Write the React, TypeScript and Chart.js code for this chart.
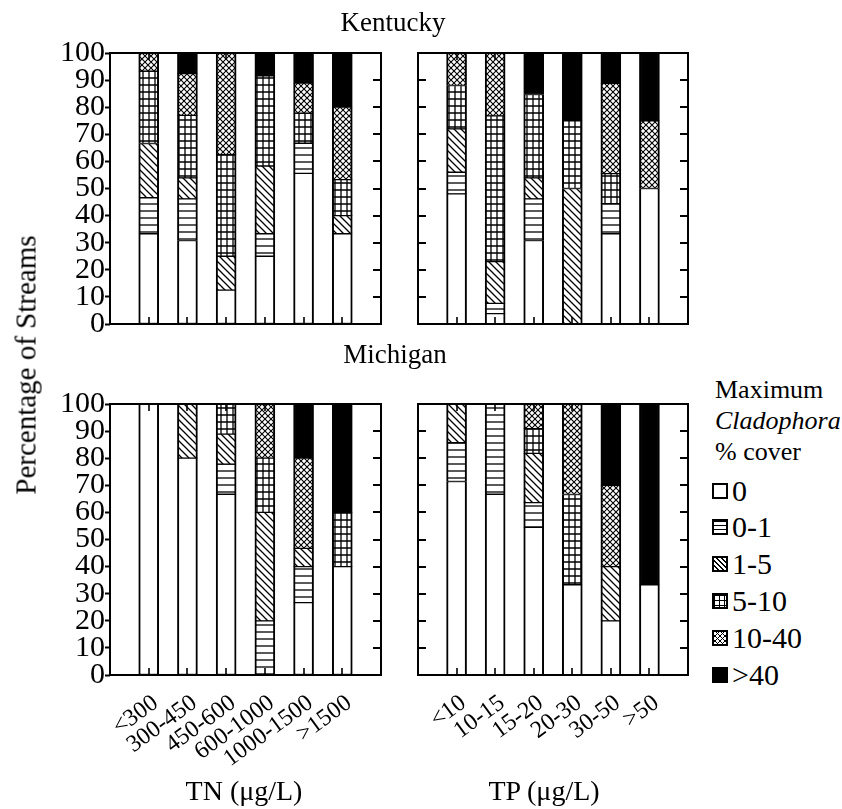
import React, { useEffect, useRef } from 'react';
import { Chart, registerables } from 'chart.js';

Chart.register(...registerables);
Chart.defaults.color = '#000';

const coverClasses = ['0', '0-1', '1-5', '5-10', '10-40', '>40'];
const tnLabels = ['<300', '300-450', '450-600', '600-1000', '1000-1500', '>1500'];
const tpLabels = ['<10', '10-15', '15-20', '20-30', '30-50', '>50'];
const yTicks = [0, 10, 20, 30, 40, 50, 60, 70, 80, 90, 100];

// Kentucky, TN classes (percentage of streams per cover class)
const kyTN0 = [33.3, 30.8, 12.5, 25.0, 55.6, 33.3];
const kyTN01 = [13.3, 15.4, 0, 8.3, 11.1, 0];
const kyTN15 = [20.0, 7.7, 12.5, 25.0, 0, 6.7];
const kyTN510 = [26.7, 23.1, 37.5, 33.3, 11.1, 13.3];
const kyTN1040 = [6.7, 15.4, 37.5, 0, 11.1, 26.7];
const kyTN40 = [0, 7.7, 0, 8.3, 11.1, 20.0];

// Kentucky, TP classes
const kyTP0 = [48.0, 3.8, 30.8, 0, 33.3, 50.0];
const kyTP01 = [8.0, 3.8, 15.4, 0, 11.1, 0];
const kyTP15 = [16.0, 15.4, 7.7, 50.0, 0, 0];
const kyTP510 = [16.0, 53.8, 30.8, 25.0, 11.1, 0];
const kyTP1040 = [12.0, 23.1, 0, 0, 33.3, 25.0];
const kyTP40 = [0, 0, 15.4, 25.0, 11.1, 25.0];

// Michigan, TN classes
const miTN0 = [100, 80.0, 66.7, 0, 26.7, 40.0];
const miTN01 = [0, 0, 11.1, 20.0, 13.3, 0];
const miTN15 = [0, 20.0, 11.1, 40.0, 6.7, 0];
const miTN510 = [0, 0, 11.1, 20.0, 0, 20.0];
const miTN1040 = [0, 0, 0, 20.0, 33.3, 0];
const miTN40 = [0, 0, 0, 0, 20.0, 40.0];

// Michigan, TP classes
const miTP0 = [71.4, 66.7, 54.5, 33.3, 20.0, 33.3];
const miTP01 = [14.3, 33.3, 9.1, 0, 0, 0];
const miTP15 = [14.3, 0, 18.2, 0, 20.0, 0];
const miTP510 = [0, 0, 9.1, 33.3, 0, 0];
const miTP1040 = [0, 0, 9.1, 33.3, 30.0, 0];
const miTP40 = [0, 0, 0, 0, 30.0, 66.7];

const SERIF = '"Liberation Serif", "Times New Roman", serif';

function makePattern(kind: string): CanvasPattern | string {
  if (kind === '0') return '#ffffff';
  if (kind === '>40') return '#000000';
  const c = document.createElement('canvas');
  let w = 8;
  let h = 8;
  if (kind === '0-1') { w = 8; h = 7; }
  if (kind === '1-5') { w = 7; h = 7; }
  if (kind === '5-10') { w = 6; h = 7; }
  if (kind === '10-40') { w = 6; h = 6; }
  c.width = w;
  c.height = h;
  const g = c.getContext('2d')!;
  g.fillStyle = '#fff';
  g.fillRect(0, 0, w, h);
  g.strokeStyle = '#000';
  g.lineWidth = 1.3;
  g.beginPath();
  if (kind === '0-1') {
    g.moveTo(0, 1); g.lineTo(w, 1);
  } else if (kind === '1-5') {
    g.moveTo(-1, -1); g.lineTo(w + 1, h + 1);
    g.moveTo(w - 1, -1); g.lineTo(w + 1, 1);
    g.moveTo(-1, h - 1); g.lineTo(1, h + 1);
  } else if (kind === '5-10') {
    g.moveTo(0, 1); g.lineTo(w, 1);
    g.moveTo(1, 0); g.lineTo(1, h);
  } else if (kind === '10-40') {
    g.lineWidth = 1.1;
    g.moveTo(-1, -1); g.lineTo(w + 1, h + 1);
    g.moveTo(-1, h + 1); g.lineTo(w + 1, -1);
  }
  g.stroke();
  const ctx = document.createElement('canvas').getContext('2d')!;
  return ctx.createPattern(c, 'repeat') as CanvasPattern;
}

const frameTicks = {
  id: 'frameTicks',
  afterDraw(chart: any, _args: any, opts: any) {
    const { ctx, chartArea: a, scales } = chart;
    const ys = scales.y;
    const xs = scales.x;
    ctx.save();
    ctx.strokeStyle = '#000';
    ctx.lineWidth = 2;
    ctx.strokeRect(a.left, a.top, a.right - a.left, a.bottom - a.top);
    ctx.beginPath();
    for (const v of yTicks) {
      if (v === 0 || v === 100) continue;
      const py = Math.round(ys.getPixelForValue(v));
      ctx.moveTo(a.right - 8, py);
      ctx.lineTo(a.right, py);
      if (!opts.leftOut) {
        ctx.moveTo(a.left, py);
        ctx.lineTo(a.left + 8, py);
      }
    }
    ctx.stroke();
    ctx.beginPath();
    ctx.lineWidth = 1.6;
    for (let i = 1; i <= opts.count; i++) {
      const px = Math.round(xs.getPixelForValue(i));
      ctx.moveTo(px, a.bottom);
      ctx.lineTo(px, a.bottom - 7);
      ctx.moveTo(px, a.top);
      ctx.lineTo(px, a.top + 7);
    }
    ctx.stroke();
    ctx.restore();
  },
};

type PanelProps = {
  left: number;
  top: number;
  width: number;
  height: number;
  padding: { left: number; right: number; top: number; bottom: number };
  labels: string[];
  series: number[][];
  showY: boolean;
  showX: boolean;
};

function Panel(p: PanelProps) {
  const ref = useRef<HTMLCanvasElement>(null);
  useEffect(() => {
    const patterns = coverClasses.map((c) => makePattern(c));
    const xScale: any = {
      type: 'linear',
      stacked: true,
      offset: false,
      min: 0,
      max: p.labels.length + 1,
      display: p.showX,
      grid: { display: false, offset: false },
      border: { display: false },
      afterBuildTicks: (s: any) => {
        s.ticks = p.labels.map((_, i) => ({ value: i + 1 }));
      },
      ticks: {
        autoSkip: false,
        minRotation: 36,
        maxRotation: 36,
        padding: 6,
        labelOffset: 7,
        color: '#000',
        font: { family: SERIF, size: 24 },
        callback: (v: any) => p.labels[Number(v) - 1] ?? '',
      },
    };
    if (p.showX) xScale.afterFit = (s: any) => { s.height = 134; };
    const yScale: any = {
      type: 'linear',
      stacked: true,
      min: 0,
      max: 100,
      display: p.showY,
      grid: { display: true, drawOnChartArea: false, drawTicks: true, tickLength: 5, tickWidth: 2, tickColor: '#000', color: '#000' },
      border: { display: false },
      afterBuildTicks: (s: any) => {
        s.ticks = yTicks.map((v) => ({ value: v }));
      },
      ticks: {
        autoSkip: false,
        padding: 0,
        color: '#000',
        font: { family: SERIF, size: 30, lineHeight: 1.2 },
      },
    };
    if (p.showY) yScale.afterFit = (s: any) => { s.width = 70; };
    const chart = new Chart(ref.current!, {
      type: 'bar',
      data: {
        datasets: coverClasses.map((c, k) => ({
          label: c,
          data: p.series[k].map((v, i) => ({ x: i + 1, y: v === 0 ? null : v })),
          backgroundColor: patterns[k] as any,
          borderColor: '#000',
          borderWidth: { left: 2, right: 2, top: 1, bottom: 1 },
          borderSkipped: false,
          barThickness: 20,
          stack: 's',
        })),
      } as any,
      options: {
        responsive: false,
        animation: false,
        events: [],
        layout: { padding: p.padding },
        plugins: {
          legend: { display: false },
          tooltip: { enabled: false },
          frameTicks: { leftOut: p.showY, count: p.labels.length },
        } as any,
        scales: { x: xScale, y: yScale },
      } as any,
      plugins: [frameTicks as any],
    });
    return () => chart.destroy();
  }, []);
  return (
    <canvas
      ref={ref}
      width={p.width}
      height={p.height}
      style={{ position: 'absolute', left: p.left, top: p.top, width: p.width, height: p.height }}
    />
  );
}

function Txt(props: { x: number; y: number; size: number; children: any; italic?: boolean; anchor?: 'center' | 'left'; rotate?: boolean }) {
  const tx = props.anchor === 'left' ? '0' : '-50%';
  return (
    <div
      style={{
        position: 'absolute',
        left: props.x,
        top: props.y,
        transform: `translate(${tx}, -50%)${props.rotate ? ' rotate(-90deg)' : ''}`,
        fontFamily: SERIF,
        fontSize: props.size,
        fontStyle: props.italic ? 'italic' : 'normal',
        lineHeight: 1,
        whiteSpace: 'nowrap',
        color: '#000',
        transformOrigin: props.rotate ? 'center center' : undefined,
      }}
    >
      {props.children}
    </div>
  );
}

const legendBackgrounds: Record<string, string> = {
  '0': '#fff',
  '0-1': 'repeating-linear-gradient(to bottom, #000 0 1px, #fff 1px 4px)',
  '1-5': 'repeating-linear-gradient(45deg, #fff 0 2.5px, #000 2.5px 3.6px)',
  '5-10': 'repeating-linear-gradient(to bottom, #000 0 1px, transparent 1px 5px), repeating-linear-gradient(to right, #000 0 1px, #fff 1px 5px)',
  '10-40': 'repeating-linear-gradient(45deg, transparent 0 2.5px, #000 2.5px 3.5px), repeating-linear-gradient(-45deg, #fff 0 2.5px, #000 2.5px 3.5px)',
  '>40': '#000',
};

const legendRows = [491, 527, 564, 601, 638, 675];

export default function App() {
  return (
    <div style={{ position: 'absolute', left: 0, top: 0, width: 842, height: 809, background: '#fff' }}>
      <Panel left={40} top={35} width={350} height={307} padding={{ left: 0, right: 9, top: 18, bottom: 18 }} labels={tnLabels}
        series={[kyTN0, kyTN01, kyTN15, kyTN510, kyTN1040, kyTN40]} showY={true} showX={false} />
      <Panel left={388} top={35} width={310} height={307} padding={{ left: 30, right: 10, top: 18, bottom: 18 }} labels={tpLabels}
        series={[kyTP0, kyTP01, kyTP15, kyTP510, kyTP1040, kyTP40]} showY={false} showX={false} />
      <Panel left={40} top={386} width={350} height={423} padding={{ left: 0, right: 9, top: 18, bottom: 0 }} labels={tnLabels}
        series={[miTN0, miTN01, miTN15, miTN510, miTN1040, miTN40]} showY={true} showX={true} />
      <Panel left={388} top={386} width={310} height={423} padding={{ left: 30, right: 10, top: 18, bottom: 0 }} labels={tpLabels}
        series={[miTP0, miTP01, miTP15, miTP510, miTP1040, miTP40]} showY={false} showX={true} />

      <Txt x={393} y={22} size={27}>Kentucky</Txt>
      <Txt x={395} y={354} size={27}>Michigan</Txt>
      <Txt x={244} y={791} size={28}>TN (μg/L)</Txt>
      <Txt x={544} y={791} size={28}>TP (μg/L)</Txt>
      <Txt x={26} y={365} size={29} rotate={true}>Percentage of Streams</Txt>

      <Txt x={715} y={390} size={26} anchor="left">Maximum</Txt>
      <Txt x={715} y={421} size={26} anchor="left" italic={true}>Cladophora</Txt>
      <Txt x={715} y={452} size={26} anchor="left">% cover</Txt>
      {coverClasses.map((c, i) => (
        <React.Fragment key={c}>
          <div
            style={{
              position: 'absolute',
              left: 712,
              top: legendRows[i] - 8,
              width: 16,
              height: 16,
              boxSizing: 'border-box',
              border: '2px solid #000',
              background: legendBackgrounds[c],
            }}
          />
          <Txt x={732} y={legendRows[i]} size={30} anchor="left">{c}</Txt>
        </React.Fragment>
      ))}
    </div>
  );
}
